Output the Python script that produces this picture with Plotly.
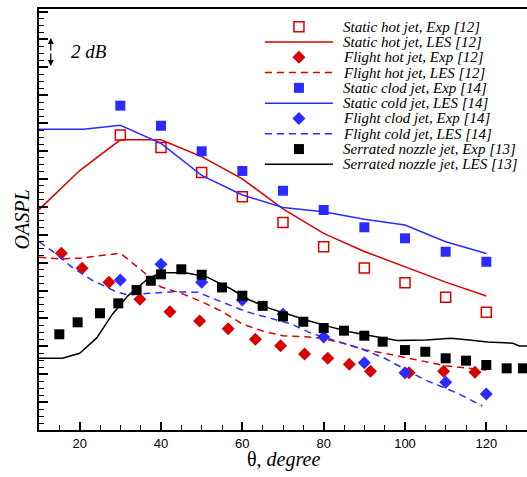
import plotly.graph_objects as go

# ---------------- data ----------------
theta_exp = [30, 40, 50, 60, 70, 80, 90, 100, 110, 120]

static_hot_exp = [21.15, 20.25, 18.46, 16.72, 14.87, 13.14, 11.61, 10.56, 9.51, 8.44]
static_hot_les_x = [10, 20, 30, 40, 50, 60, 70, 80, 90, 100, 110, 120]
static_hot_les_y = [15.8, 18.6, 20.8, 20.8, 19.6, 18.0, 15.85, 14.1, 12.8, 11.7, 10.6, 9.6]

flight_hot_exp_x = [15.5, 20.6, 27.2, 34.8, 42.2, 49.5, 56.5, 63.2, 69.4, 75.3, 81.0, 86.3, 91.5, 101.0, 109.5, 117.2]
flight_hot_exp_y = [12.67, 11.59, 10.59, 9.37, 8.48, 7.81, 7.26, 6.51, 6.04, 5.45, 5.14, 4.72, 4.21, 4.11, 4.21, 4.14]
flight_hot_les_x = [10, 15, 20, 25, 30, 35, 40, 45, 50, 55, 60, 65, 70, 75, 80, 85, 90, 95, 100, 105, 110, 115, 120]
flight_hot_les_y = [12.38, 12.27, 12.32, 12.5, 12.67, 11.5, 10.25, 9.8, 9.2, 8.5, 7.6, 7.1, 6.75, 6.7, 6.55, 6.2, 5.75, 5.5, 5.2, 4.9, 4.6, 4.45, 4.3]

static_cold_exp = [23.25, 21.81, 19.98, 18.57, 17.15, 15.77, 14.53, 13.74, 12.78, 12.06]
static_cold_les_x = [10, 21, 30, 40, 50, 60, 70, 80, 90, 100, 110, 120]
static_cold_les_y = [21.56, 21.56, 21.85, 20.55, 18.25, 16.85, 15.95, 15.65, 15.1, 14.7, 13.5, 12.65]

flight_cold_exp = [10.75, 11.88, 10.59, 9.32, 8.29, 6.67, 4.82, 4.11, 3.42, 2.58]
flight_cold_les_x = [10, 14, 18, 23, 29, 32, 37, 43, 49, 55, 61, 67, 72, 77, 84, 89, 95, 105, 113, 119]
flight_cold_les_y = [13.5, 12.67, 11.7, 10.75, 9.91, 9.68, 9.8, 9.91, 9.87, 9.2, 8.48, 8.0, 7.6, 6.93, 6.33, 5.86, 5.14, 3.58, 2.63, 1.72]

serrated_exp_x = [15, 19.5, 25, 29.5, 34, 37.5, 40, 45, 50, 55, 60, 65, 70, 75, 80, 85, 90, 94.5, 100, 105, 110, 115, 120, 125, 129]
serrated_exp_y = [6.86, 7.72, 8.37, 9.08, 10.04, 10.7, 11.16, 11.52, 11.13, 10.22, 9.63, 8.9, 8.14, 7.76, 7.31, 7.12, 6.76, 6.33, 5.73, 5.61, 5.14, 4.97, 4.66, 4.42, 4.42]
serrated_les_x = [10, 15.8, 20, 24.2, 28.1, 31.8, 36.4, 39.7, 46, 51.1, 56.9, 61.8, 66.7, 71.6, 76.5, 81.4, 86.3, 92.9, 98.1, 105.2, 111.3, 115.8, 120.3, 126.5, 128.1, 130]
serrated_les_y = [5.14, 5.14, 5.5, 6.6, 8.32, 9.6, 10.75, 11.28, 11.28, 10.99, 10.16, 9.32, 8.72, 8.24, 7.81, 7.41, 7.05, 6.69, 6.42, 6.45, 6.57, 6.45, 6.31, 6.22, 6.02, 6.02]

legend_names = [
    "Static hot jet, Exp [12]",
    "Static hot jet, LES [12]",
    "Flight hot jet, Exp [12]",
    "Flight hot jet, LES [12]",
    "Static clod jet, Exp [14]",
    "Static cold jet, LES [14]",
    "Flight clod jet, Exp [14]",
    "Flight cold jet, LES [14]",
    "Serrated nozzle jet, Exp [13]",
    "Serrated nozzle jet, LES [13]",
]

x_ticks = [20, 40, 60, 80, 100, 120]

# ---------------- styles ----------------
RED = "#d80000"
BLUE = "#2b2bff"
BLACK = "#000000"
SERIF = "Liberation Serif"
SANS = "Liberation Sans"
DASH = "7px,5px"

styles = [
    dict(mode="markers", marker=dict(symbol="square-open", size=10, color=RED, line=dict(width=1.5, color=RED))),
    dict(mode="lines", line=dict(color=RED, width=1.5)),
    dict(mode="markers", marker=dict(symbol="diamond", size=10, color=RED, line=dict(width=0))),
    dict(mode="lines", line=dict(color=RED, width=1.5, dash=DASH)),
    dict(mode="markers", marker=dict(symbol="square", size=10, color=BLUE, line=dict(width=0))),
    dict(mode="lines", line=dict(color=BLUE, width=1.5)),
    dict(mode="markers", marker=dict(symbol="diamond", size=10, color=BLUE, line=dict(width=0))),
    dict(mode="lines", line=dict(color=BLUE, width=1.5, dash=DASH)),
    dict(mode="markers", marker=dict(symbol="square", size=10, color=BLACK, line=dict(width=0))),
    dict(mode="lines", line=dict(color=BLACK, width=1.5)),
]

data = [
    (theta_exp, static_hot_exp),
    (static_hot_les_x, static_hot_les_y),
    (flight_hot_exp_x, flight_hot_exp_y),
    (flight_hot_les_x, flight_hot_les_y),
    (theta_exp, static_cold_exp),
    (static_cold_les_x, static_cold_les_y),
    (theta_exp, flight_cold_exp),
    (flight_cold_les_x, flight_cold_les_y),
    (serrated_exp_x, serrated_exp_y),
    (serrated_les_x, serrated_les_y),
]

fig = go.Figure()

for (xs, ys), st, nm in zip(data, styles, legend_names):
    fig.add_trace(go.Scatter(x=xs, y=ys, name=nm, showlegend=False, cliponaxis=True, **st))

# custom compact legend on a hidden auxiliary axis pair (key spans 0..1, text starts after it)
LEG_XMAX = 3.853
annotations = []
for i, (st, nm) in enumerate(zip(styles, legend_names)):
    if st["mode"] == "markers":
        fig.add_trace(go.Scatter(x=[0.5], y=[i], xaxis="x2", yaxis="y2", showlegend=False,
                                 hoverinfo="skip", **st))
    else:
        fig.add_trace(go.Scatter(x=[0, 1], y=[i, i], xaxis="x2", yaxis="y2", showlegend=False,
                                 hoverinfo="skip", **st))
    annotations.append(dict(xref="x2", yref="y2", x=1.13, y=i, text="<i>" + nm + "</i>",
                            showarrow=False, xanchor="left", yanchor="middle", borderpad=0,
                            font=dict(family=SERIF, size=15, color=BLACK)))

# 2 dB scale arrow (double headed) in data units
for y_tip in (28.1, 26.1):
    annotations.append(dict(xref="x", yref="y", axref="x", ayref="y", x=12.9, y=y_tip,
                            ax=12.9, ay=27.1, text="", showarrow=True, arrowhead=2,
                            arrowsize=1, arrowwidth=1.2, arrowcolor=BLACK, standoff=0, startstandoff=0))
annotations.append(dict(xref="x", yref="y", x=22.2, y=27.1, text="<i>2 dB</i>", showarrow=False,
                        font=dict(family=SERIF, size=19, color=BLACK)))

# axis titles
annotations.append(dict(xref="paper", yref="paper", x=-0.035, y=0.5, text="<i>OASPL</i>",
                        textangle=-90, showarrow=False, xanchor="center", yanchor="middle",
                        font=dict(family=SERIF, size=20, color=BLACK)))
annotations.append(dict(xref="paper", yref="paper", x=0.502, y=-0.071, text="θ, <i>degree</i>",
                        showarrow=False, xanchor="center", yanchor="middle",
                        font=dict(family=SERIF, size=20, color=BLACK)))

fig.update_layout(
    width=527, height=477,
    margin=dict(l=39, r=0, t=9, b=47, autoexpand=False),
    paper_bgcolor="white", plot_bgcolor="white",
    showlegend=False,
    annotations=annotations,
    xaxis=dict(range=[10, 130], tickmode="array", tickvals=x_ticks, ticktext=[str(v) for v in x_ticks],
               ticks="inside", ticklen=8, tickwidth=1.5, tickcolor=BLACK,
               showline=True, linewidth=2, linecolor=BLACK, mirror=True,
               showgrid=False, zeroline=False,
               tickfont=dict(family=SANS, size=13, color=BLACK),
               minor=dict(tick0=0, dtick=5, ticks="inside", ticklen=5, tickwidth=1, tickcolor=BLACK, showgrid=False)),
    yaxis=dict(range=[0, 30.18], tick0=0, dtick=2, ticks="inside", ticklen=9, tickwidth=1.5, tickcolor=BLACK,
               showticklabels=False, showline=True, linewidth=2, linecolor=BLACK, mirror=False,
               showgrid=False, zeroline=False,
               minor=dict(tick0=0, dtick=0.5, ticks="inside", ticklen=5, tickwidth=1, tickcolor=BLACK, showgrid=False)),
    xaxis2=dict(domain=[0.463, 1.0], range=[0, LEG_XMAX], anchor="y2", visible=False, fixedrange=True),
    yaxis2=dict(domain=[0.6128, 0.9762], range=[9.5, -0.5], anchor="x2", visible=False, fixedrange=True),
)

fig.write_html("out.html")
